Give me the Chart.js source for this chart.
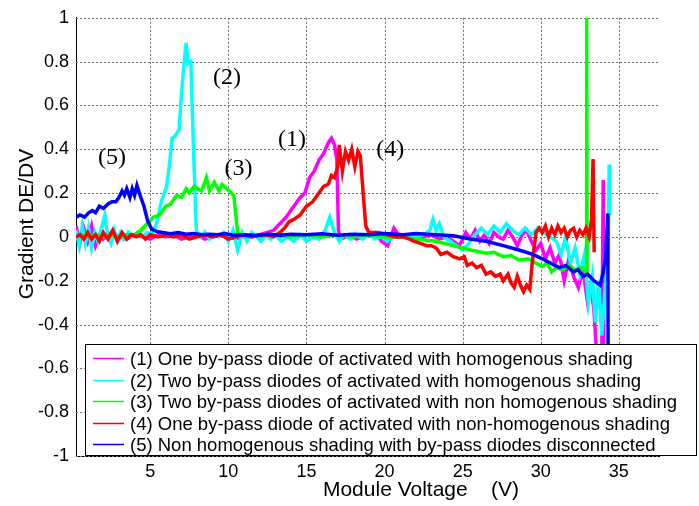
<!DOCTYPE html>
<html>
<head>
<meta charset="utf-8">
<title>Gradient DE/DV</title>
<script src="https://cdn.jsdelivr.net/npm/chart.js@4.4.0/dist/chart.umd.min.js"></script>
<style>
  html, body { margin: 0; padding: 0; background: #fff; }
  canvas { display: block; }
</style>
</head>
<body>
<canvas id="gradient" width="699" height="506"></canvas>
<script>
// Axis ticks
const xTicks = [5, 10, 15, 20, 25, 30, 35];
const yTicks = [-1, -0.8, -0.6, -0.4, -0.2, 0, 0.2, 0.4, 0.6, 0.8, 1];

// Legend entries
const seriesNames = [
  "(1) One by-pass diode of activated with homogenous shading",
  "(2) Two by-pass diodes of activated with homogenous shading",
  "(3) Two by-pass diodes of activated with non homogenous shading",
  "(4) One by-pass diode of activated with non-homogenous shading",
  "(5) Non homogenous shading with by-pass diodes disconnected"
];
const seriesColors = ["#ff00ff", "#00ffff", "#00ff00", "#ff0000", "#0000ff"];

// [voltage, gradient] per curve
const curve1 = [
  [0.25,0.05],[0.5,-0.03],[0.75,0.04],[1.0,-0.02],[1.25,0.05],[1.5,-0.04],[1.75,0.01],[2.0,-0.01],
  [2.5,0.02],[3.0,0.0],[3.5,-0.01],[4.0,0.01],[4.5,0.0],[5.0,-0.01],[5.5,0.01],[6.0,0.0],
  [6.5,0.01],[7.0,-0.01],[7.5,0.0],[8.0,0.01],[8.5,-0.01],[9.0,0.0],[9.5,0.01],[10.0,0.0],
  [10.5,-0.01],[11.0,0.01],[11.5,0.0],[12.0,0.01],[12.5,0.02],[12.9,0.03],[13.3,0.06],[13.7,0.09],
  [14.0,0.12],[14.2,0.14],[14.4,0.16],[14.6,0.18],[14.9,0.2],[15.2,0.27],[15.5,0.3],[15.8,0.35],
  [16.1,0.38],[16.4,0.43],[16.6,0.45],[16.8,0.42],[16.95,0.35],[17.05,0.03],[17.2,-0.01],[17.5,0.0],
  [17.8,0.01],[18.2,-0.01],[18.6,0.0],[19.0,0.01],[19.4,0.02],[19.8,-0.02],[20.2,-0.04],[20.6,0.04],
  [21.0,0.0],[21.5,0.01],[22.0,-0.01],[22.5,0.0],[23.0,0.01],[23.5,-0.01],[24.0,0.0],[24.4,-0.02],
  [24.8,-0.04],[25.2,0.02],[25.5,-0.01],[25.8,0.03],[26.1,-0.02],[26.4,0.01],[26.7,-0.03],[27.0,0.02],
  [27.3,0.0],[27.6,-0.01],[27.9,0.03],[28.2,0.0],[28.5,-0.04],[28.8,0.01],[29.1,0.03],[29.4,-0.02],
  [29.7,-0.06],[30.0,-0.03],[30.3,-0.1],[30.6,-0.05],[30.9,-0.12],[31.2,-0.08],[31.5,-0.2],[31.8,-0.1],
  [32.1,-0.18],[32.4,-0.23],[32.7,-0.15],[33.0,-0.3],[33.2,-0.22],[33.4,-0.33],[33.55,-0.5],[33.7,-0.7],
  [33.85,-1.0],[34.0,0.26],[34.05,-1.0]
];
const curve2 = [
  [0.25,0.03],[0.45,-0.04],[0.65,0.05],[0.85,-0.03],[1.05,0.04],[1.25,-0.05],[1.45,0.02],[1.65,-0.02],
  [1.85,0.03],[2.1,0.1],[2.3,0.0],[2.5,-0.03],[2.7,0.03],[2.9,-0.02],[3.1,0.02],[3.3,-0.01],
  [3.6,0.02],[3.9,0.0],[4.2,0.02],[4.5,0.0],[4.8,0.02],[5.1,0.01],[5.4,0.06],[5.75,0.17],
  [6.05,0.23],[6.25,0.34],[6.4,0.45],[6.6,0.46],[6.85,0.49],[7.0,0.65],[7.15,0.78],[7.3,0.885],
  [7.42,0.79],[7.6,0.8],[7.75,0.45],[7.95,0.03],[8.2,0.0],[8.5,0.02],[8.8,-0.01],[9.1,0.01],
  [9.4,0.0],[9.7,0.02],[10.0,-0.02],[10.3,0.03],[10.6,-0.06],[10.9,0.02],[11.2,-0.02],[11.5,0.02],
  [11.8,0.0],[12.1,-0.02],[12.4,0.01],[12.7,-0.01],[13.0,0.01],[13.4,-0.02],[13.8,0.0],[14.2,-0.02],
  [14.6,0.01],[15.0,-0.02],[15.4,0.0],[15.8,-0.01],[16.2,0.03],[16.5,0.09],[16.8,0.02],[17.1,-0.02],
  [17.4,0.01],[17.8,-0.01],[18.2,0.01],[18.6,-0.01],[19.0,0.01],[19.4,-0.01],[19.8,0.0],[20.2,-0.02],
  [20.6,0.01],[21.0,0.0],[21.5,0.01],[22.0,0.0],[22.5,0.01],[22.9,0.03],[23.1,0.08],[23.3,0.03],
  [23.5,0.06],[23.8,0.0],[24.2,-0.02],[24.6,-0.04],[25.0,-0.06],[25.4,-0.03],[25.8,0.01],[26.2,0.04],
  [26.6,0.01],[27.0,0.05],[27.4,0.02],[27.8,0.06],[28.2,0.03],[28.6,0.01],[29.0,0.04],[29.4,0.01],
  [29.8,0.04],[30.2,0.02],[30.6,0.0],[31.0,-0.02],[31.3,-0.08],[31.6,0.0],[31.9,-0.12],[32.2,-0.05],
  [32.5,-0.17],[32.8,-0.08],[33.05,-0.3],[33.3,-0.18],[33.5,-0.39],[33.7,-0.2],[33.9,-0.45],[34.1,-0.25],
  [34.3,-0.1],[34.38,0.33],[34.42,0.1]
];
const curve3 = [
  [0.25,0.0],[0.6,0.01],[1.0,0.0],[1.5,0.01],[2.0,0.0],[2.5,0.01],[3.0,0.0],[3.5,0.01],
  [4.0,0.01],[4.4,0.03],[4.8,0.06],[5.2,0.09],[5.6,0.1],[6.0,0.14],[6.3,0.15],[6.7,0.19],
  [7.0,0.18],[7.3,0.22],[7.5,0.2],[7.8,0.23],[8.0,0.22],[8.3,0.21],[8.6,0.27],[8.8,0.21],
  [9.1,0.25],[9.4,0.21],[9.6,0.24],[9.9,0.22],[10.2,0.2],[10.35,0.19],[10.6,0.02],[11.0,0.0],
  [11.5,0.01],[12.0,0.0],[13.0,0.01],[14.0,0.0],[15.0,0.01],[16.0,0.0],[17.0,0.01],[18.0,0.0],
  [19.0,0.01],[20.0,0.0],[21.0,0.0],[22.0,-0.01],[23.3,-0.02],[24.4,-0.04],[25.5,-0.06],[26.5,-0.075],
  [27.0,-0.07],[27.6,-0.09],[28.1,-0.085],[28.6,-0.105],[29.2,-0.1],[29.7,-0.12],[30.1,-0.135],[30.4,-0.12],
  [30.7,-0.16],[31.0,-0.14],[31.4,-0.15],[31.8,-0.13],[32.2,-0.15],[32.6,-0.14],[32.9,-0.16],[32.94,1.0],
  [32.97,-0.16]
];
const curve4 = [
  [0.25,0.0],[0.5,0.01],[0.75,-0.01],[1.0,0.02],[1.25,-0.01],[1.5,0.01],[1.75,-0.02],[2.0,0.02],
  [2.3,-0.01],[2.6,0.03],[2.9,-0.02],[3.2,0.02],[3.5,-0.01],[3.8,0.01],[4.1,0.0],[4.4,0.01],
  [4.7,-0.01],[5.0,0.01],[5.5,0.0],[6.0,0.01],[6.5,0.0],[7.0,0.01],[7.5,-0.01],[8.0,0.0],
  [8.5,0.01],[9.0,0.0],[9.5,0.01],[10.0,-0.01],[10.5,0.0],[11.0,0.01],[11.5,0.0],[12.0,0.01],
  [12.5,0.01],[12.9,0.0],[13.3,0.02],[13.6,0.04],[13.9,0.07],[14.2,0.08],[14.6,0.1],[15.0,0.14],
  [15.4,0.16],[15.8,0.2],[16.1,0.23],[16.4,0.24],[16.6,0.28],[16.8,0.27],[17.0,0.32],[17.1,0.42],
  [17.3,0.3],[17.5,0.39],[17.7,0.35],[17.9,0.4],[18.1,0.32],[18.3,0.39],[18.45,0.37],[18.6,0.23],
  [18.8,0.05],[19.0,0.02],[19.6,0.02],[20.2,0.01],[20.7,0.0],[21.2,0.0],[21.6,-0.01],[21.9,-0.02],
  [22.3,-0.03],[22.7,-0.04],[23.0,-0.04],[23.3,-0.05],[23.6,-0.08],[24.0,-0.07],[24.4,-0.09],[24.8,-0.1],
  [25.1,-0.09],[25.3,-0.13],[25.6,-0.12],[25.9,-0.14],[26.2,-0.13],[26.5,-0.17],[26.8,-0.16],[27.1,-0.18],
  [27.4,-0.17],[27.6,-0.2],[27.9,-0.17],[28.1,-0.21],[28.3,-0.23],[28.5,-0.18],[28.7,-0.22],[28.9,-0.25],
  [29.1,-0.22],[29.3,-0.24],[29.45,-0.12],[29.7,0.02],[29.9,0.04],[30.1,0.02],[30.3,0.05],[30.5,0.0],
  [30.7,0.04],[30.9,0.01],[31.1,0.05],[31.3,0.02],[31.5,0.04],[31.7,0.0],[31.9,0.03],[32.1,0.04],
  [32.3,0.0],[32.5,0.03],[32.7,0.01],[32.9,0.04],[33.1,0.0],[33.25,0.08],[33.35,0.355],[33.42,-0.07]
];
const curve5 = [
  [0.25,0.09],[0.5,0.1],[0.8,0.09],[1.05,0.11],[1.3,0.12],[1.5,0.11],[1.75,0.14],[2.0,0.13],
  [2.3,0.15],[2.55,0.16],[2.8,0.16],[3.0,0.18],[3.2,0.21],[3.35,0.19],[3.5,0.22],[3.7,0.18],
  [3.85,0.22],[4.0,0.19],[4.15,0.235],[4.35,0.19],[4.6,0.14],[4.85,0.07],[5.1,0.035],[5.4,0.025],
  [5.8,0.02],[6.3,0.015],[6.8,0.02],[7.3,0.012],[7.8,0.015],[8.3,0.01],[8.8,0.012],[9.3,0.01],
  [9.8,0.015],[10.3,0.008],[11.0,0.01],[11.8,0.006],[12.5,0.012],[13.3,0.008],[14.0,0.012],[15.0,0.01],
  [16.0,0.014],[17.0,0.008],[18.0,0.012],[19.0,0.01],[20.0,0.015],[21.2,0.01],[22.0,0.015],[23.3,0.01],
  [24.4,0.005],[25.5,-0.01],[26.5,-0.02],[27.6,-0.04],[28.6,-0.06],[29.5,-0.08],[30.1,-0.1],[30.9,-0.13],
  [31.2,-0.14],[31.6,-0.13],[32.1,-0.16],[32.4,-0.15],[32.7,-0.18],[33.0,-0.17],[33.4,-0.2],[33.6,-0.21],
  [33.8,-0.22],[34.0,-0.16],[34.15,-0.09],[34.3,0.107],[34.32,-1.0]
];
const curves = [curve1, curve2, curve3, curve4, curve5];

// Curve tags written inside the plot, at [voltage, gradient]
const tagTexts = ["(1)", "(2)", "(3)", "(4)", "(5)"];
const tagSpots = [[14.07, 0.445], [9.91, 0.725], [10.65, 0.31], [20.36, 0.40], [2.55, 0.36]];

const sansFont = '"Liberation Sans", Arial, sans-serif';

// Dotted grid behind the curves
const dottedGrid = {
  id: "dottedGrid",
  beforeDatasetsDraw(chart) {
    const ctx = chart.ctx;
    const {left, right, top, bottom} = chart.chartArea;
    const xs = chart.scales.x, ys = chart.scales.y;
    ctx.save();
    ctx.strokeStyle = "#6e6e6e";
    ctx.lineWidth = 1;
    ctx.setLineDash([2, 2]);
    xTicks.forEach(v => {
      const px = Math.round(xs.getPixelForValue(v)) + 0.5;
      ctx.beginPath();
      ctx.moveTo(px, top);
      ctx.lineTo(px, bottom);
      ctx.stroke();
    });
    yTicks.forEach(v => {
      const py = Math.round(ys.getPixelForValue(v)) + 0.5;
      ctx.beginPath();
      ctx.moveTo(left, py);
      ctx.lineTo(right, py);
      ctx.stroke();
    });
    ctx.restore();
  }
};

// Titles, curve tags and the boxed legend
const overlay = {
  id: "overlay",
  afterDraw(chart) {
    const ctx = chart.ctx;
    const xs = chart.scales.x, ys = chart.scales.y;
    ctx.save();
    ctx.fillStyle = "#000";
    ctx.textAlign = "center";
    ctx.textBaseline = "middle";

    ctx.font = "24px \"Liberation Serif\", \"Times New Roman\", serif";
    tagTexts.forEach((t, i) => {
      ctx.fillText(t, xs.getPixelForValue(tagSpots[i][0]), ys.getPixelForValue(tagSpots[i][1]));
    });

    ctx.font = "21px " + sansFont;
    ctx.fillText("Module Voltage    (V)", 421, 490);
    ctx.save();
    ctx.translate(27, 224);
    ctx.rotate(-Math.PI / 2);
    ctx.fillText("Gradient DE/DV", 0, 0);
    ctx.restore();

    // legend box
    ctx.fillStyle = "#fff";
    ctx.fillRect(85, 344, 612, 111);
    ctx.strokeStyle = "#000";
    ctx.lineWidth = 1;
    ctx.strokeRect(85.5, 344.5, 611, 111);
    ctx.font = "18.5px " + sansFont;
    ctx.textAlign = "left";
    chart.data.datasets.forEach((ds, i) => {
      const y = Math.round(358 + i * 21.6) + 0.5;
      ctx.strokeStyle = ds.borderColor;
      ctx.lineWidth = 1.5;
      ctx.beginPath();
      ctx.moveTo(93, y);
      ctx.lineTo(124, y);
      ctx.stroke();
      ctx.fillStyle = "#000";
      ctx.fillText(ds.label, 130, y + 1);
    });
    ctx.restore();
  }
};

new Chart(document.getElementById("gradient"), {
  type: "line",
  data: {
    datasets: curves.map((c, i) => ({
      label: seriesNames[i],
      data: c.map(([x, y]) => ({x: x, y: y})),
      borderColor: seriesColors[i],
      borderWidth: 3.5,
      pointRadius: 0,
      tension: 0,
      fill: false,
      order: curves.length - i
    }))
  },
  options: {
    responsive: false,
    animation: false,
    devicePixelRatio: 1,
    layout: {padding: {top: 12, right: 40, left: 0, bottom: 0}},
    plugins: {legend: {display: false}, tooltip: {enabled: false}},
    scales: {
      x: {
        type: "linear",
        min: 0.25,
        max: 37.57,
        afterBuildTicks: (s) => { s.ticks = xTicks.map(v => ({value: v})); },
        afterFit: (s) => { s.height = 50; },
        ticks: {color: "#000", font: {family: sansFont, size: 18}, padding: 5, maxRotation: 0},
        grid: {display: false, drawTicks: false},
        border: {display: true, color: "#000", width: 1}
      },
      y: {
        min: -1,
        max: 1,
        afterBuildTicks: (s) => { s.ticks = yTicks.map(v => ({value: v})); },
        afterFit: (s) => { s.width = 76; },
        ticks: {
          color: "#000",
          font: {family: sansFont, size: 18},
          padding: 7,
          callback: (v) => String(Math.round(v * 10) / 10)
        },
        grid: {display: false, drawTicks: false},
        border: {display: true, color: "#000", width: 1}
      }
    }
  },
  plugins: [dottedGrid, overlay]
});
</script>
</body>
</html>
